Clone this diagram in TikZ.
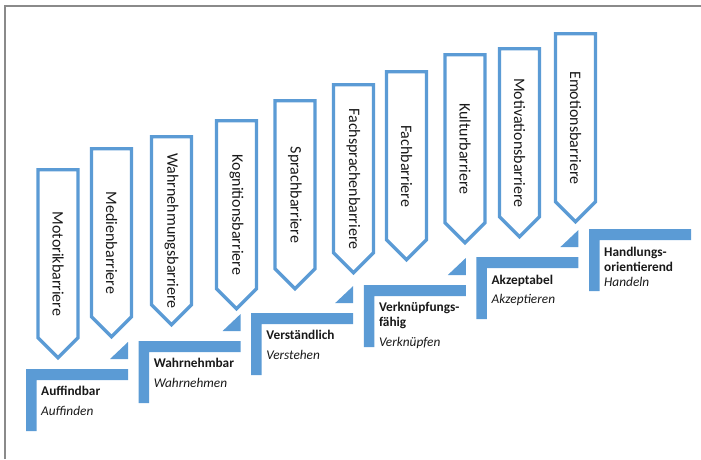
\documentclass[tikz,border=0pt]{standalone}
\usepackage{fontspec}
\setmainfont{Carlito}
\definecolor{officeblue}{HTML}{5B9BD5}
\definecolor{framegray}{HTML}{8A8A8A}
\begin{document}
\begin{tikzpicture}[x=1pt,y=-1pt,
  barrier/.style={draw=officeblue, line width=3.3pt, fill=white, line join=miter},
  barriertext/.style={rotate=-90, inner sep=0pt, font=\fontsize{16}{19}\selectfont, text=black!90},
  stepshape/.style={fill=officeblue, draw=none},
  steptitle/.style={anchor=base west, inner sep=0pt, font=\fontsize{13.3}{15}\selectfont\bfseries, text=black!90},
  stepsub/.style={anchor=base west, inner sep=0pt, font=\fontsize{13.3}{15}\selectfont\itshape, text=black!90}]
\useasboundingbox (0,0) rectangle (701,459);
% frame
\draw[framegray, line width=2pt] (5,459) -- (5,6) -- (701,6);
% barrier arrows
\foreach \cx/\ty/\nm/\txt in {58/168/motorik/Motorikbarriere,
  111.5/147/medien/Medienbarriere,
  171.5/135/wahrnehmung/Wahrnehmungsbarriere,
  236.5/119/kognition/Kognitionsbarriere,
  295/99/sprach/Sprachbarriere,
  353.5/83/fachsprache/Fachsprachenbarriere,
  406.5/70/fach/Fachbarriere,
  465/53/kultur/Kulturbarriere,
  519.5/47/motivation/Motivationsbarriere,
  575.5/32/emotion/Emotionsbarriere}{
  \draw[barrier] (\cx-20,\ty+1.65) -- (\cx+20,\ty+1.65) -- (\cx+20,\ty+169.7)
     -- (\cx,\ty+189.7) -- (\cx-20,\ty+169.7) -- cycle;
  \node[barriertext] (\nm) at (\cx,\ty+96) {\txt};
}
% steps
\foreach \i in {0,...,5}{
  \pgfmathsetmacro\L{26+112.6*\i}
  \pgfmathsetmacro\T{369-28*\i}
  \fill[officeblue] (\L,\T) -- (\L+102,\T) -- (\L+102,\T+11) -- (\L+10.5,\T+11)
     -- (\L+10.5,\T+62) -- (\L,\T+62) -- cycle;
}
\foreach \i in {0,...,4}{
  \pgfmathsetmacro\R{128+112.6*\i}
  \pgfmathsetmacro\T{369-28*\i}
  \fill[officeblue] (\R-18,\T-10) -- (\R,\T-10) -- (\R,\T-27) -- cycle;
}
% step texts
\node[steptitle] (s1a) at (41,395) {Auffindbar};
\node[stepsub]   (s1b) at (41,415) {Auffinden};
\node[steptitle] (s2a) at (153.6,367) {Wahrnehmbar};
\node[stepsub]   (s2b) at (153.6,387) {Wahrnehmen};
\node[steptitle] (s3a) at (266.2,339) {Verständlich};
\node[stepsub]   (s3b) at (266.2,359) {Verstehen};
\node[steptitle] (s4a) at (378.8,311) {Verknüpfungs-};
\node[steptitle] (s4c) at (378.8,326) {fähig};
\node[stepsub]   (s4b) at (378.8,346.5) {Verknüpfen};
\node[steptitle] (s5a) at (491.4,284) {Akzeptabel};
\node[stepsub]   (s5b) at (491.4,303.5) {Akzeptieren};
\node[steptitle] (s6a) at (604,256) {Handlungs-};
\node[steptitle] (s6c) at (604,271) {orientierend};
\node[stepsub]   (s6b) at (604,286) {Handeln};
\end{tikzpicture}
\end{document}
